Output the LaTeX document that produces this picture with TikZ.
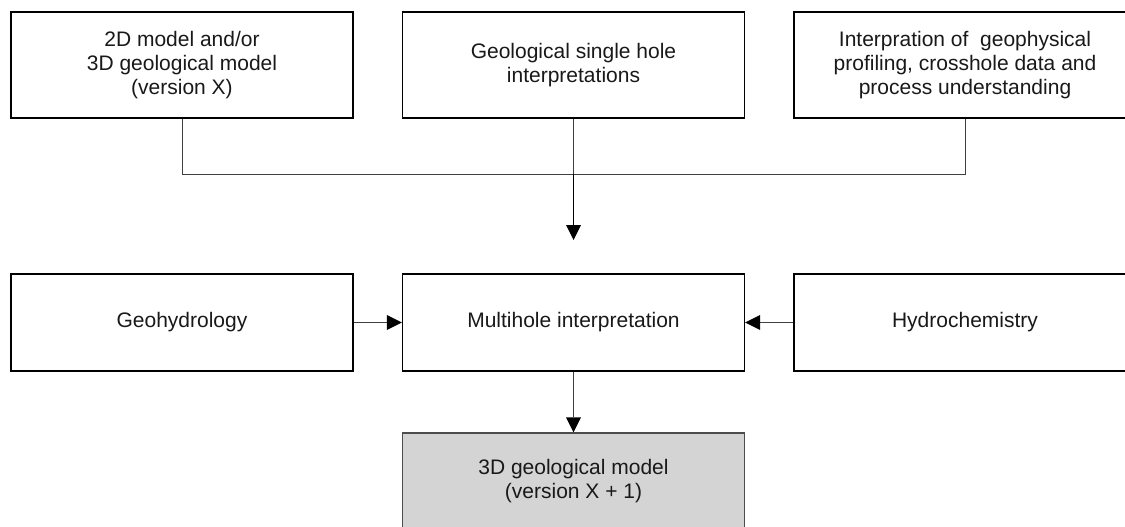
\documentclass[tikz,border=0pt]{standalone}
\usepackage{fontspec}
\setmainfont{Liberation Sans}
\usetikzlibrary{arrows.meta}
\begin{document}
\begin{tikzpicture}[x=1pt,y=-1pt,
  box/.style={draw=black,line width=1.1pt,fill=white,align=center,inner sep=0pt,
    font=\fontsize{21pt}{24pt}\selectfont,text=black!90},
  topbox/.style={box,minimum width=342pt,minimum height=106pt},
  midbox/.style={box,minimum width=342pt,minimum height=97pt},
  conn/.style={draw=black!75,line width=0.9pt},
  arr/.style={conn,-{Triangle[length=15pt,width=15pt,fill=black,line width=0pt]}}]
\useasboundingbox (0,0) rectangle (1125,527);
\clip (0,0) rectangle (1125,527);
\node[topbox] (a) at (182,65) {2D model and/or\\3D geological model\\(version X)};
\node[topbox] (b) at (573.5,65) {Geological single hole\\interpretations};
\node[topbox] (c) at (965,65) {Interpration of \ geophysical\\profiling, crosshole data and\\process understanding};
\node[midbox] (g) at (182,322.5) {Geohydrology};
\node[midbox] (m) at (573.5,322.5) {Multihole interpretation};
\node[midbox] (h) at (965,322.5) {Hydrochemistry};
\node[midbox,fill=black!17,draw=black!70] (r) at (573.5,481.5) {3D geological model\\(version X + 1)};
\coordinate (j) at (573.5,174);
\coordinate (t) at (573.5,240);
\draw[conn] (a.south) |- (j);
\draw[conn] (c.south) |- (j);
\draw[conn] (b.south) -- (j);
\draw[arr,draw=black,line width=1.2pt] (j) -- (t);
\draw[arr] (g.east) -- (m.west);
\draw[arr] (h.west) -- (m.east);
\draw[arr] (m.south) -- (r.north);
\end{tikzpicture}
\end{document}
